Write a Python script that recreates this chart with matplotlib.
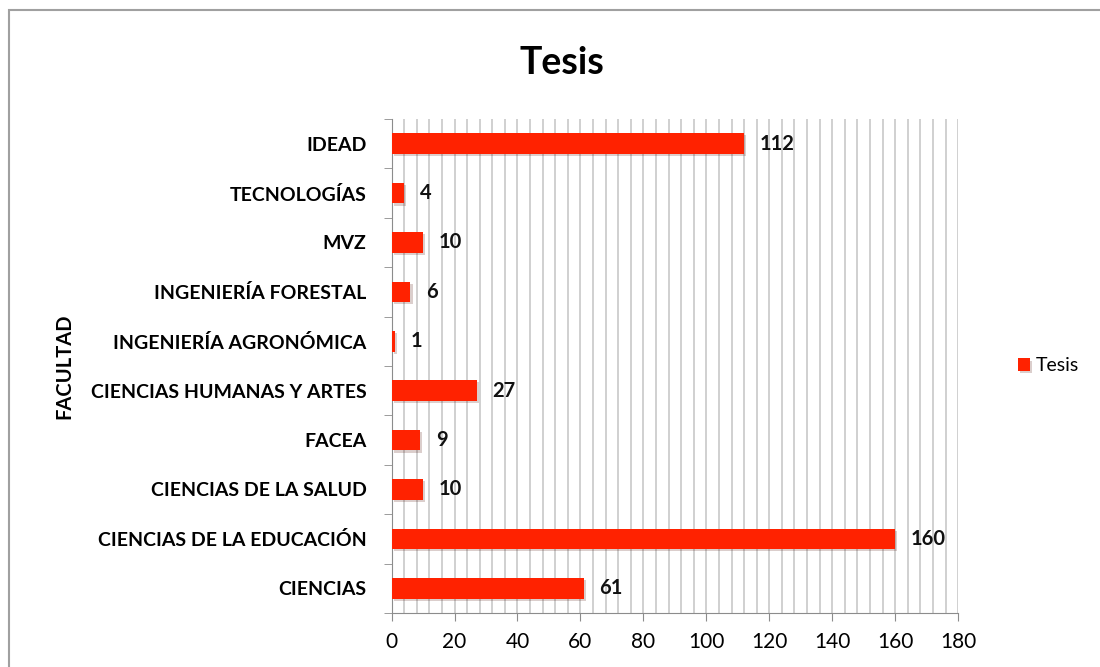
import matplotlib
matplotlib.use("Agg")
import matplotlib.pyplot as plt
from matplotlib.patches import Rectangle
from matplotlib.ticker import MultipleLocator
import matplotlib.patheffects as pe

plt.rcParams['font.family'] = ['Lato', 'DejaVu Sans']

facultades = [
    "CIENCIAS", "CIENCIAS DE LA EDUCACIÓN", "CIENCIAS DE LA SALUD", "FACEA",
    "CIENCIAS HUMANAS Y ARTES", "INGENIERÍA AGRONÓMICA", "INGENIERÍA FORESTAL",
    "MVZ", "TECNOLOGÍAS", "IDEAD",
]
tesis = [61, 160, 10, 9, 27, 1, 6, 10, 4, 112]

_BAR = "#ff2200"
_GRID = "#c8c8c8"
_AXIS = "#8c8c8c"

fig = plt.figure(figsize=(11, 6.67), dpi=100)
ax = fig.add_axes([0.356, 0.081, 0.515, 0.7406])

# marco gris del gráfico
fig.patches.append(Rectangle((0.008, -0.01), 1.1, 0.995, transform=fig.transFigure,
                             fill=False, edgecolor="#a0a0a0", linewidth=1.5))

ys = list(range(len(facultades)))
bars = ax.barh(ys, tesis, height=0.42, color=_BAR, zorder=3, label="Tesis")
for b in bars:
    b.set_path_effects([pe.SimplePatchShadow(offset=(1.5, -1.5), alpha=0.2), pe.Normal()])

for y, v in zip(ys, tesis):
    ax.text(v + 5, y, str(v), va="center", ha="left", fontsize=14.5,
            fontweight="bold", color="#111111")

ax.set_xlim(0, 180)
ax.set_ylim(-0.5, len(facultades) - 0.5)
ax.xaxis.set_major_locator(MultipleLocator(20))
ax.xaxis.set_minor_locator(MultipleLocator(4))
ax.grid(axis="x", which="both", color=_GRID, linewidth=1.2, zorder=0)
ax.set_axisbelow(True)

ax.set_yticks(ys)
ax.set_yticklabels(facultades, fontsize=14, fontweight="bold")
ax.set_yticks([y - 0.5 for y in ys] + [len(ys) - 0.5], minor=True)
ax.tick_params(axis="y", which="major", length=0, pad=18)
ax.tick_params(axis="y", which="minor", length=6, color=_AXIS)
ax.tick_params(axis="x", which="major", length=6, color=_AXIS, labelsize=15, pad=8)
ax.tick_params(axis="x", which="minor", length=0)

for side in ("top", "right"):
    ax.spines[side].set_visible(False)
for side in ("left", "bottom"):
    ax.spines[side].set_color(_AXIS)

ax.set_ylabel("FACULTAD", fontsize=14.5, fontweight="bold", labelpad=12)
fig.text(0.511, 0.905, "Tesis", ha="center", va="center", fontsize=27, fontweight="bold")

ax.legend(loc="center left", bbox_to_anchor=(1.075, 0.5), frameon=False,
          fontsize=14, handlelength=0.6, handleheight=0.6, handletextpad=0.3)

fig.savefig("out.png", dpi=100)
